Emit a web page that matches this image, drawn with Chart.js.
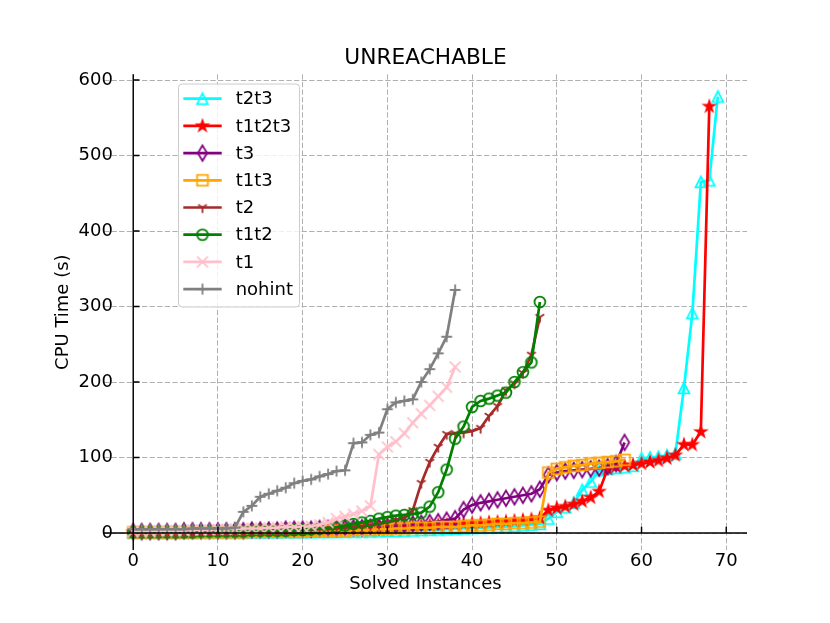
<!DOCTYPE html>
<html>
<head>
<meta charset="utf-8">
<script src="https://cdn.jsdelivr.net/npm/chart.js@4.4.1/dist/chart.umd.min.js"></script>
<style>
html,body{margin:0;padding:0;background:#fff;}
#wrap{width:830px;height:623px;position:relative;}
</style>
</head>
<body>
<div id="wrap"><canvas id="c"></canvas></div>
<script>
// ---- data (CPU time in seconds per solved instance, sorted) ----
const seriesNames = ['t2t3','t1t2t3','t3','t1t3','t2','t1t2','t1','nohint'];
const t2t3 = [0.5,0.5,0.5,0.5,0.5,0.5,0.5,0.5,0.6,0.6,
  0.6,0.7,0.7,0.7,0.8,0.8,0.9,0.9,1,1,
  1,1.1,1.2,1.3,1.4,1.5,1.6,1.8,2,2.2,
  2.5,2.8,3,3.4,3.8,4.2,4.6,5,5.5,6,
  6.5,7,7.5,8,8.5,9,10,11,
  12,19,28,34,40,57,68,83,85,86,
  87,89,99,100,101,103,105,192,291,465,467,578];
const t1t2t3 = [1,1,1,1,1,1,1,1,1.5,1.5,
  1.5,2,2,2,2,2.5,2.5,3,3,3,
  3.5,4,4,4.5,5,5,5.5,6,6.5,7,
  7.5,8,8.5,9,9.5,10,10.5,11,11.5,12,
  12.5,13,14,14.5,15,16,17,18,
  20,30,33,35,38,42,47,55,85,88,
  89,90,92,94,96,99,103,117,117,134,565];
const t3 = [2,2,2,2,2,2,3,3,3,3,
  3,3,3,3,4,4,4,4,5,5,
  5,5,6,6,6,7,7,7,8,8,
  9,10,11,12,13,14,15,17,19,
  31,37,40,42,44,46,48,50,52,58,
  77,80,82,83,84,85,86,88,92,120];
const t1t3 = [1,1,1,1,1,1,1,1,1,1,
  1,1,1,1,2,2,2,2,2,2,
  2,3,3,3,3,3,4,4,4,5,
  5,6,6,7,7,7,8,8,8,9,
  10,10,11,12,12,13,13,14,15,
  80,85,87,89,90,92,93,94,95,97];
const t2 = [1,1,1,1,1,1,1,1,1,2,
  2,2,2,2,2,2,3,3,3,3,
  4,4,5,5,6,7,8,9,10,12,
  14,17,20,
  30,66,94,114,131,132,133,135,139,155,168,189,198,212,236,286];
const t1t2 = [1,1,1,1,1,1,1,1,2,2,
  2,2,2,2,3,3,3,3,3,4,
  4,5,6,7,8,10,12,14,16,19,
  21,23,24,25,27,35,54,84,125,141,
  167,175,178,182,186,200,213,226,306];
const t1 = [2,2,2,3,3,3,3,4,4,4,
  5,5,5,6,6,6,7,7,8,8,
  8,9,11,14,19,22,25,29,36,104,
  114,121,132,146,158,169,181,193,220];
const nohint = [5,5,5,5,5,5,5,6,6,6,6,6,7,
  28,36,48,52,56,60,66,69,71,75,78,82,83,
  119,120,130,133,164,173,175,177,200,217,238,260,322];
const xTicks = [0,10,20,30,40,50,60,70];
const yTicks = [0,100,200,300,400,500,600];

const seriesData = [t2t3,t1t2t3,t3,t1t3,t2,t1t2,t1,nohint];
const seriesColors = ['#00ffff','#ff0000','#800080','#ffa500','#a52a2a','#008000','#ffc0cb','#808080'];
const seriesMarkers = ['^','*','d','s','1','o','x','+'];

// ---- marker images (matplotlib-like) ----
function makeMarker(kind, color) {
  const S = 10.8, h = S / 2, size = 26;
  const c = document.createElement('canvas');
  c.width = size; c.height = size;
  const g = c.getContext('2d');
  g.translate(size / 2, size / 2);
  g.strokeStyle = color; g.fillStyle = color; g.lineWidth = 1.8;
  g.lineJoin = 'miter'; g.lineCap = 'butt';
  g.beginPath();
  if (kind === '^') { g.moveTo(0, -h); g.lineTo(-h, h); g.lineTo(h, h); g.closePath(); g.stroke(); }
  else if (kind === '*') {
    for (let k = 0; k < 10; k++) {
      const r = k % 2 ? h * 0.381966 : h;
      const a = -Math.PI / 2 + k * Math.PI / 5;
      if (k === 0) g.moveTo(r * Math.cos(a), r * Math.sin(a)); else g.lineTo(r * Math.cos(a), r * Math.sin(a));
    }
    g.closePath(); g.fill(); g.stroke();
  }
  else if (kind === 'd') { const d = S * Math.SQRT1_2; g.moveTo(0, -d); g.lineTo(0.6 * d, 0); g.lineTo(0, d); g.lineTo(-0.6 * d, 0); g.closePath(); g.stroke(); }
  else if (kind === 's') { g.rect(-h, -h, S, S); g.stroke(); }
  else if (kind === '1') { g.moveTo(0, 0); g.lineTo(0, h); g.moveTo(0, 0); g.lineTo(0.8 * h, -0.5 * h); g.moveTo(0, 0); g.lineTo(-0.8 * h, -0.5 * h); g.stroke(); }
  else if (kind === 'o') { g.arc(0, 0, h, 0, Math.PI * 2); g.stroke(); }
  else if (kind === 'x') { g.moveTo(-h, -h); g.lineTo(h, h); g.moveTo(-h, h); g.lineTo(h, -h); g.stroke(); }
  else if (kind === '+') { g.moveTo(-h, 0); g.lineTo(h, 0); g.moveTo(0, -h); g.lineTo(0, h); g.stroke(); }
  return c;
}
const markerImgs = seriesMarkers.map((m, i) => makeMarker(m, seriesColors[i]));

const datasets = seriesNames.map((name, i) => ({
  label: name,
  data: seriesData[i].map((v, k) => ({x: k, y: v})),
  borderColor: seriesColors[i],
  backgroundColor: seriesColors[i],
  borderWidth: 2.7,
  pointStyle: markerImgs[i],
  pointRadius: 6,
  pointHoverRadius: 6,
  fill: false,
  tension: 0,
  order: seriesNames.length - 1 - i
}));

Chart.defaults.font.family = 'DejaVu Sans';
Chart.defaults.color = '#000';

const spinesPlugin = {
  id: 'spines',
  afterDatasetsDraw(chart) {
    const {ctx, chartArea: a, scales: {x, y}} = chart;
    const x0 = x.getPixelForValue(0), y0 = y.getPixelForValue(0);
    ctx.save();
    ctx.strokeStyle = '#000'; ctx.lineWidth = 1.44; ctx.setLineDash([]);
    ctx.beginPath();
    ctx.moveTo(a.left, y0); ctx.lineTo(a.right, y0);
    ctx.moveTo(x0, a.top); ctx.lineTo(x0, a.bottom);
    xTicks.forEach(v => { const p = x.getPixelForValue(v); ctx.moveTo(p, y0); ctx.lineTo(p, y0 - 6.3); });
    yTicks.forEach(v => { const p = y.getPixelForValue(v); ctx.moveTo(x0, p); ctx.lineTo(x0 + 6.3, p); });
    ctx.stroke();
    ctx.restore();
  }
};

const legendPlugin = {
  id: 'mplLegend',
  afterDraw(chart) {
    const ctx = chart.ctx;
    const bx = 178.5, by = 84, bw = 121, bh = 223, r = 3.6;
    ctx.save();
    ctx.beginPath();
    ctx.moveTo(bx + r, by); ctx.lineTo(bx + bw - r, by); ctx.arcTo(bx + bw, by, bx + bw, by + r, r);
    ctx.lineTo(bx + bw, by + bh - r); ctx.arcTo(bx + bw, by + bh, bx + bw - r, by + bh, r);
    ctx.lineTo(bx + r, by + bh); ctx.arcTo(bx, by + bh, bx, by + bh - r, r);
    ctx.lineTo(bx, by + r); ctx.arcTo(bx, by, bx + r, by, r); ctx.closePath();
    ctx.fillStyle = 'rgba(255,255,255,0.8)'; ctx.fill();
    ctx.strokeStyle = '#cccccc'; ctx.lineWidth = 1; ctx.stroke();
    chart.data.datasets.forEach((ds, i) => {
      const ry = 98.7 + i * 27.2;
      ctx.beginPath(); ctx.strokeStyle = ds.borderColor; ctx.lineWidth = 2.7;
      ctx.moveTo(183.3, ry); ctx.lineTo(221.7, ry); ctx.stroke();
      const img = ds.pointStyle;
      ctx.drawImage(img, 202.5 - img.width / 2, ry - img.height / 2);
      ctx.fillStyle = '#000'; ctx.font = '18px "DejaVu Sans"';
      ctx.textAlign = 'left'; ctx.textBaseline = 'middle';
      ctx.fillText(ds.label, 235.7, ry + 1);
    });
    ctx.restore();
  }
};

new Chart(document.getElementById('c'), {
  type: 'line',
  data: {datasets},
  options: {
    responsive: true,
    maintainAspectRatio: false,
    animation: false,
    events: [],
    layout: {padding: {left: 0, right: 83, top: 0, bottom: 0}},
    plugins: {
      legend: {display: false},
      tooltip: {enabled: false},
      title: {
        display: true, text: 'UNREACHABLE', color: '#000', fullSize: false,
        font: {family: 'DejaVu Sans', size: 21.7, weight: 'normal', lineHeight: 1.2},
        padding: {top: 45.4, bottom: 2.9}
      }
    },
    scales: {
      x: {
        type: 'linear', position: 'bottom', min: -3.45, max: 72.45, bounds: 'data',
        afterBuildTicks: s => { s.ticks = xTicks.map(v => ({value: v})); },
        afterFit: s => { s.height = 73; },
        grid: {color: '#b0b0b0', lineWidth: 1, drawTicks: false},
        border: {display: false, dash: [5.3, 2.3]},
        ticks: {autoSkip: false, maxRotation: 0, padding: 1, color: '#000',
                font: {family: 'DejaVu Sans', size: 18, lineHeight: 1.2}},
        title: {display: true, text: 'Solved Instances', color: '#000',
                font: {family: 'DejaVu Sans', size: 18, lineHeight: 1.2},
                padding: {top: 0, bottom: 27.5}}
      },
      y: {
        type: 'linear', position: 'left', min: -22.5, max: 607.5, bounds: 'data',
        afterBuildTicks: s => { s.ticks = yTicks.map(v => ({value: v})); },
        afterFit: s => { s.width = 104; },
        grid: {color: '#b0b0b0', lineWidth: 1, drawTicks: false},
        border: {display: false, dash: [5.3, 2.3]},
        ticks: {autoSkip: false, mirror: true, crossAlign: 'far', padding: -25.4, color: '#000',
                font: {family: 'DejaVu Sans', size: 18, lineHeight: 1.2}},
        title: {display: true, text: 'CPU Time (s)', color: '#000',
                font: {family: 'DejaVu Sans', size: 18, lineHeight: 1.2},
                padding: {top: 52.2, bottom: 0}}
      }
    }
  },
  plugins: [spinesPlugin, legendPlugin]
});
</script>
</body>
</html>
